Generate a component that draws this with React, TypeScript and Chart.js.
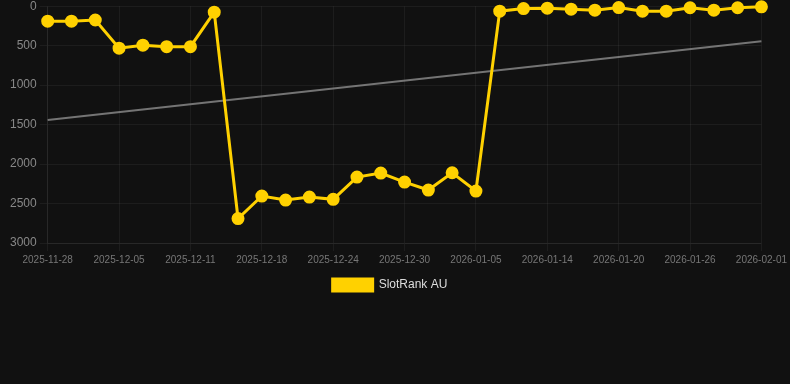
import React, { useEffect, useRef } from "react";
import { Chart, registerables } from "chart.js";

Chart.register(...registerables);

const dates = [
  "2025-11-28", "2025-11-30", "2025-12-02", "2025-12-05", "2025-12-07", "2025-12-09",
  "2025-12-11", "2025-12-13", "2025-12-15", "2025-12-18", "2025-12-20", "2025-12-22",
  "2025-12-24", "2025-12-26", "2025-12-28", "2025-12-30", "2026-01-01", "2026-01-03",
  "2026-01-05", "2026-01-08", "2026-01-11", "2026-01-14", "2026-01-16", "2026-01-18",
  "2026-01-20", "2026-01-22", "2026-01-24", "2026-01-26", "2026-01-28", "2026-01-30",
  "2026-02-01",
];

const rankAU = [
  190, 190, 175, 532, 494, 513, 513, 76, 2690, 2405, 2456, 2418, 2447, 2165, 2114, 2228,
  2329, 2110, 2342, 63, 30, 25, 38, 50, 17, 63, 63, 20, 50, 20, 8,
];

const trendStart = 1443;
const trendEnd = 443;

const yTicks = [0, 500, 1000, 1500, 2000, 2500, 3000];

const legendShift = {
  id: "legendShift",
  afterLayout(chart: any) {
    if (chart.legend) {
      chart.legend.left += 5;
      chart.legend.right += 5;
    }
  },
};

export default function App() {
  const ref = useRef<HTMLCanvasElement>(null);

  useEffect(() => {
    document.body.style.margin = "0";
    document.body.style.background = "#111111";
    const chart = new Chart(ref.current!, {
      type: "line",
      data: {
        labels: dates,
        datasets: [
          {
            label: "SlotRank AU",
            data: rankAU,
            borderColor: "rgb(255,209,0)",
            backgroundColor: "rgb(255,209,0)",
            borderWidth: 3,
            pointRadius: 5,
            pointHoverRadius: 5,
            pointBackgroundColor: "rgb(255,209,0)",
            pointBorderColor: "rgb(255,209,0)",
            tension: 0,
            clip: false,
          },
          {
            label: "trend",
            data: [
              { x: dates[0], y: trendStart },
              { x: dates[dates.length - 1], y: trendEnd },
            ] as any,
            borderColor: "rgba(150,150,150,0.75)",
            backgroundColor: "rgba(150,150,150,0.75)",
            borderWidth: 2,
            pointRadius: 0,
            tension: 0,
          },
        ],
      },
      options: {
        animation: false,
        responsive: false,
        layout: { padding: { left: 7, right: 27, top: 0 } },
        scales: {
          x: {
            grid: { color: "rgba(255,255,255,0.05)" },
            border: { color: "rgba(255,255,255,0.05)" },
            ticks: {
              autoSkip: false,
              maxRotation: 0,
              color: "#777",
              font: { size: 10, family: "Liberation Sans, Arial, sans-serif" },
              callback: (v: any, i: number) => (i % 3 === 0 ? dates[i] : null),
            },
          },
          y: {
            reverse: true,
            min: 0,
            max: 3000,
            afterBuildTicks: (axis: any) => {
              axis.ticks = yTicks.map((v) => ({ value: v }));
            },
            grid: { color: "rgba(255,255,255,0.05)" },
            border: { color: "rgba(255,255,255,0.05)" },
            ticks: {
              color: "#888",
              font: { size: 12, family: "Liberation Sans, Arial, sans-serif" },
              callback: (v: any) => String(v),
            },
          },
        },
        plugins: {
          legend: {
            position: "bottom",
            labels: {
              color: "#ddd",
              font: { size: 12, family: "Liberation Sans, Arial, sans-serif" },
              filter: (item: any) => item.text === "SlotRank AU",
            },
          },
          tooltip: { enabled: false },
        },
      },
      plugins: [legendShift],
    });
    return () => chart.destroy();
  }, []);

  return (
    <div style={{ width: 790, height: 384, background: "#111111", overflow: "hidden" }}>
      <canvas ref={ref} width={790} height={305} style={{ display: "block", marginTop: -4 }} />
    </div>
  );
}
